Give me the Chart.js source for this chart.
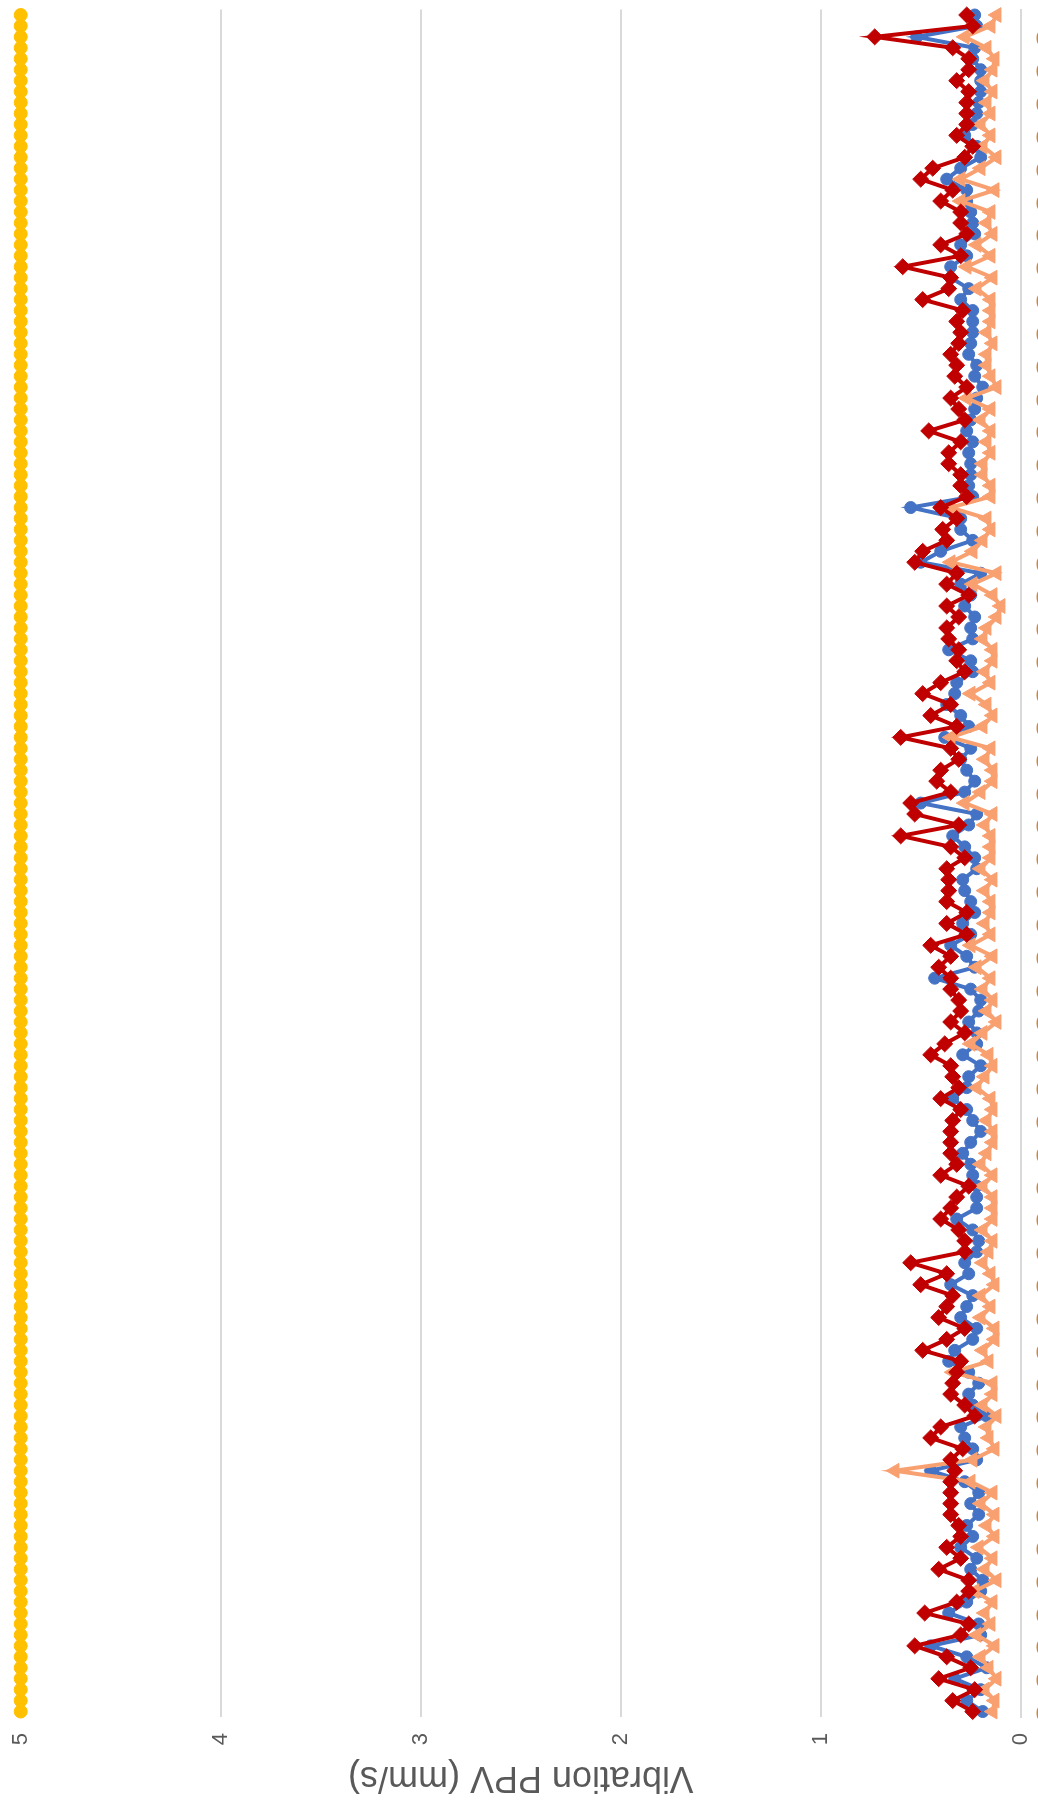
<!DOCTYPE html>
<html>
<head>
<meta charset="utf-8">
<title>Vibration PPV</title>
<script src="https://cdn.jsdelivr.net/npm/chart.js@4.4.1/dist/chart.umd.min.js"></script>
<style>
  html, body { margin: 0; padding: 0; background: #ffffff; width: 1038px; height: 1803px; overflow: hidden; }
  /* the chart is laid out landscape and turned a quarter turn counter-clockwise */
  #wrap { position: absolute; left: 0; top: 0; width: 1803px; height: 1101px;
          transform-origin: 0 0; transform: translate(0px, 1803px) rotate(-90deg); }
</style>
</head>
<body>
<div id="wrap"><canvas id="c" width="1803" height="1101"></canvas></div>
<script>
// hourly reading times (category axis)
const readingTimes = [];
for (let h = 0; h < 156; h++) readingTimes.push(String(h % 24).padStart(2, '0') + ':00');

// value axis ticks
const ppvTicks = [0, 1, 2, 3, 4, 5];

// PPV limit (mm/s)
const limitPPV = new Array(156).fill(5);

// monitor readings, mm/s
const monitorRed = [
  0.24,0.34,0.23,0.41,0.25,0.37,0.53,0.30,0.26,0.48,
  0.32,0.26,0.26,0.41,0.30,0.37,0.30,0.31,0.35,0.35,
  0.35,0.35,0.33,0.35,0.29,0.45,0.40,0.23,0.28,0.35,
  0.34,0.32,0.30,0.49,0.37,0.28,0.41,0.37,0.34,0.50,
  0.37,0.55,0.28,0.28,0.31,0.40,0.35,0.32,0.26,0.40,
  0.32,0.35,0.35,0.35,0.34,0.30,0.40,0.31,0.34,0.35,
  0.45,0.38,0.28,0.35,0.30,0.31,0.35,0.35,0.41,0.35,
  0.45,0.27,0.37,0.27,0.37,0.36,0.36,0.37,0.28,0.35,
  0.60,0.31,0.53,0.55,0.35,0.42,0.40,0.31,0.35,0.60,
  0.32,0.45,0.35,0.49,0.40,0.28,0.32,0.31,0.36,0.37,
  0.31,0.37,0.26,0.37,0.32,0.53,0.49,0.37,0.39,0.32,
  0.40,0.27,0.30,0.30,0.36,0.36,0.30,0.46,0.28,0.31,
  0.35,0.27,0.33,0.32,0.35,0.31,0.30,0.32,0.29,0.49,
  0.36,0.35,0.59,0.30,0.40,0.27,0.30,0.30,0.40,0.34,
  0.50,0.44,0.28,0.24,0.32,0.27,0.27,0.27,0.26,0.32,
  0.26,0.26,0.34,0.73,0.24,0.27
];
const monitorBlue = [
  0.19,0.27,0.20,0.33,0.17,0.27,0.45,0.20,0.21,0.36,
  0.27,0.20,0.19,0.25,0.22,0.30,0.24,0.27,0.21,0.25,
  0.21,0.28,0.45,0.22,0.24,0.28,0.30,0.17,0.24,0.26,
  0.21,0.26,0.36,0.33,0.24,0.22,0.30,0.27,0.24,0.35,
  0.26,0.28,0.22,0.21,0.24,0.32,0.22,0.22,0.22,0.24,
  0.25,0.29,0.25,0.20,0.24,0.27,0.34,0.27,0.26,0.20,
  0.29,0.22,0.22,0.26,0.21,0.20,0.25,0.43,0.23,0.27,
  0.35,0.25,0.29,0.23,0.25,0.28,0.29,0.22,0.23,0.28,
  0.34,0.26,0.22,0.50,0.28,0.23,0.27,0.30,0.25,0.38,
  0.26,0.30,0.37,0.33,0.32,0.24,0.25,0.36,0.24,0.25,
  0.23,0.28,0.25,0.30,0.20,0.50,0.40,0.24,0.30,0.30,
  0.55,0.24,0.26,0.25,0.25,0.26,0.24,0.27,0.25,0.23,
  0.22,0.19,0.23,0.22,0.26,0.25,0.24,0.24,0.24,0.30,
  0.26,0.35,0.35,0.27,0.30,0.23,0.24,0.25,0.27,0.27,
  0.37,0.30,0.20,0.22,0.28,0.24,0.22,0.21,0.20,0.20,
  0.20,0.24,0.23,0.52,0.22,0.23
];
const monitorOrange = [
  0.14,0.13,0.18,0.12,0.16,0.20,0.13,0.22,0.15,0.18,
  0.14,0.23,0.12,0.18,0.14,0.21,0.13,0.17,0.13,0.20,
  0.14,0.25,0.63,0.24,0.13,0.16,0.17,0.12,0.19,0.14,
  0.14,0.34,0.16,0.19,0.13,0.13,0.20,0.15,0.20,0.13,
  0.15,0.19,0.16,0.14,0.19,0.14,0.14,0.14,0.19,0.14,
  0.20,0.17,0.14,0.14,0.17,0.14,0.15,0.22,0.18,0.14,
  0.16,0.25,0.19,0.12,0.17,0.14,0.19,0.15,0.22,0.14,
  0.25,0.15,0.18,0.15,0.15,0.18,0.14,0.20,0.15,0.15,
  0.15,0.18,0.14,0.28,0.20,0.14,0.14,0.18,0.15,0.35,
  0.19,0.14,0.17,0.25,0.15,0.18,0.14,0.14,0.19,0.17,
  0.12,0.10,0.14,0.24,0.12,0.35,0.24,0.19,0.15,0.17,
  0.35,0.15,0.15,0.19,0.19,0.15,0.17,0.15,0.20,0.15,
  0.27,0.12,0.15,0.17,0.17,0.14,0.17,0.15,0.15,0.15,
  0.22,0.14,0.27,0.15,0.22,0.14,0.17,0.15,0.30,0.13,
  0.30,0.20,0.12,0.19,0.15,0.20,0.15,0.17,0.14,0.18,
  0.14,0.13,0.17,0.28,0.15,0.12
];

const FONT = "'Liberation Sans', Arial, sans-serif";

new Chart(document.getElementById('c'), {
  type: 'line',
  data: {
    labels: readingTimes,
    datasets: [
      { label: 'Limit', data: limitPPV, order: 4, clip: false,
        borderColor: '#FFC000', backgroundColor: '#FFC000', borderWidth: 3.5,
        pointStyle: 'circle', pointRadius: 6.5, pointBorderWidth: 1 },
      { label: 'Monitor 1', data: monitorBlue, order: 3, clip: false,
        borderColor: '#4472C4', backgroundColor: '#4472C4', borderWidth: 4,
        pointStyle: 'circle', pointRadius: 6, pointBorderWidth: 1 },
      { label: 'Monitor 3', data: monitorOrange, order: 2, clip: false,
        borderColor: '#F9A071', backgroundColor: '#F9A071', borderWidth: 4,
        pointStyle: 'triangle', pointRadius: 8.5, pointBorderWidth: 1 },
      { label: 'Monitor 2', data: monitorRed, order: 1, clip: false,
        borderColor: '#C00000', backgroundColor: '#C00000', borderWidth: 4,
        pointStyle: 'rectRot', pointRadius: 8, pointBorderWidth: 1 }
    ]
  },
  options: {
    responsive: false,
    animation: false,
    devicePixelRatio: 1,
    layout: { padding: { left: 0, right: 1, top: 20.7, bottom: 0 } },
    plugins: { legend: { display: false }, tooltip: { enabled: false } },
    elements: { line: { tension: 0 } },
    scales: {
      x: {
        type: 'category',
        offset: true,
        grid: { display: false, drawTicks: false },
        border: { display: true, color: '#d9d9d9', width: 2 },
        ticks: {
          autoSkip: false, minRotation: 90, maxRotation: 90, padding: 15,
          color: '#c08a4a', font: { family: FONT, size: 20 },
          callback: function (v, i) { return i % 3 === 0 ? this.getLabelForValue(v) : null; }
        },
        afterFit: function (s) { s.height = 80.3; s.paddingLeft = 0; s.paddingRight = 0; }
      },
      y: {
        min: 0, max: 5,
        afterBuildTicks: function (s) { s.ticks = ppvTicks.map(v => ({ value: v })); },
        ticks: { padding: 16, color: '#595959', font: { family: FONT, size: 22 } },
        grid: { color: '#d9d9d9', lineWidth: 2, drawTicks: false },
        border: { display: false },
        title: { display: true, text: 'Vibration PPV (mm/s)', color: '#595959',
                 font: { family: FONT, size: 36 }, padding: { top: 4, bottom: 0 } },
        afterFit: function (s) { s.width = 86; s.paddingTop = 0; s.paddingBottom = 0; }
      }
    }
  }
});
</script>
</body>
</html>
